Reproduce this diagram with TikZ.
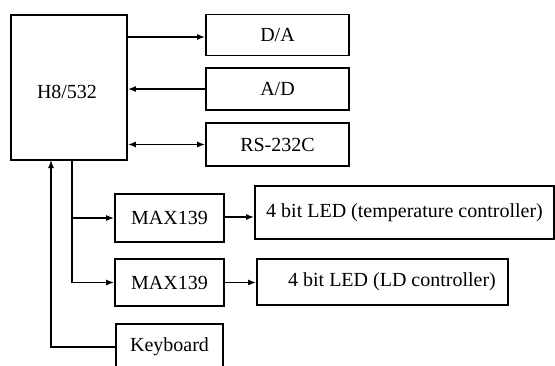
\documentclass[tikz,border=0pt]{standalone}
\usepackage{fontspec}
\setmainfont{Liberation Serif}
\usetikzlibrary{arrows.meta}
\begin{document}
\begin{tikzpicture}[x=1pt,y=-1pt,
  blk/.style={draw,line width=1.7pt,inner sep=0pt,font=\fontsize{20}{24}\selectfont},
  conn/.style={line width=1.5pt},
  arr/.style={conn,-{Latex[length=8pt,width=6pt]}},
  barr/.style={conn,{Latex[length=8pt,width=6pt]}-{Latex[length=8pt,width=6pt]}}]
\useasboundingbox (0,0) rectangle (555,365);
\clip (0,0) rectangle (555,365);
\node[blk,minimum width=116pt,minimum height=145pt] (H8) at (69,87.5) {\raisebox{-4pt}[\height][\depth]{H8/532}\hspace*{4pt}};
\node[blk,minimum width=143pt,minimum height=41pt] (DA) at (277.5,35) {D/A};
\node[blk,minimum width=143pt,minimum height=42pt] (AD) at (277.5,89) {A/D};
\node[blk,minimum width=143pt,minimum height=43pt] (RS) at (277.5,144.5) {RS-232C};
\node[blk,minimum width=109pt,minimum height=48pt] (M1) at (169.5,218) {MAX139};
\node[blk,minimum width=109pt,minimum height=47pt] (M2) at (169.5,282.5) {MAX139};
\node[blk,minimum width=107pt,minimum height=46pt] (KB) at (169.5,347) {Keyboard};
\node[blk,minimum width=299pt,minimum height=53pt] (L1) at (404.5,212.5) {4 bit LED (temperature controller)};
\node[blk,minimum width=251pt,minimum height=46pt] (L2) at (382.5,282) {\hspace*{19pt}4 bit LED (LD controller)};
\coordinate (v) at (72,160);
\coordinate (k) at (51,160);
\draw[arr] (H8.east |- 0,37) -- (DA.west |- 0,37);
\draw[arr] (AD.west) -- (H8.east |- AD.west);
\draw[barr] (H8.east |- RS.west) -- (RS.west);
\draw[arr] (v) |- (M1.west);
\draw[arr] (v) |- (M2.west);
\draw[arr] (KB.west) -| (k);
\draw[arr] (M1.east |- 0,217) -- (L1.west |- 0,217);
\draw[arr] (M2.east) -- (M2.east -| L2.west);
\end{tikzpicture}
\end{document}
